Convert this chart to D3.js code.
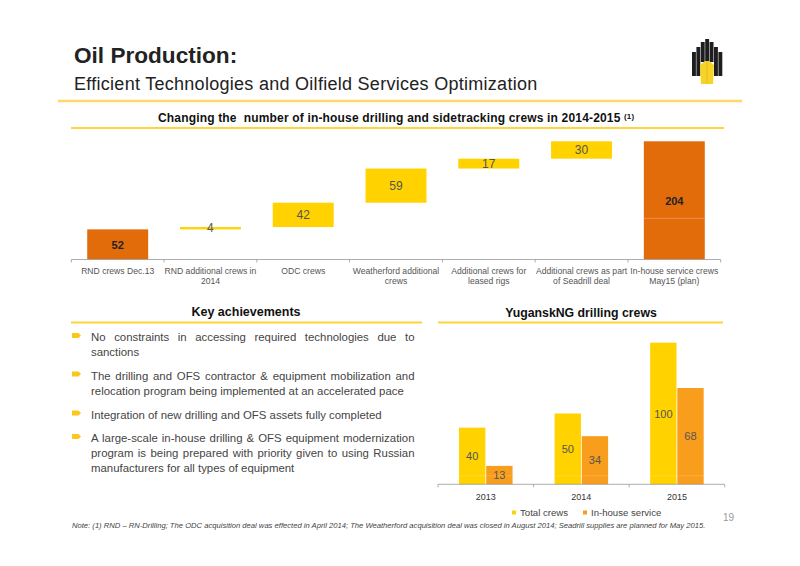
<!DOCTYPE html>
<html>
<head>
<meta charset="utf-8">
<script src="https://cdn.jsdelivr.net/npm/d3@7"></script>
<style>
  html, body { margin: 0; padding: 0; background: #fff; }
  text { font-family: "Liberation Sans", Arial, sans-serif; }
</style>
</head>
<body>
<svg id="slide" width="800" height="566"></svg>
<script>
// waterfall chart
const crewLabels = [
  ["RND crews Dec.13"],
  ["RND additional crews in", "2014"],
  ["ODC crews"],
  ["Weatherford additional", "crews"],
  ["Additional crews for", "leased rigs"],
  ["Additional crews as part", "of Seadrill deal"],
  ["In-house service crews", "May15 (plan)"]
];
const crewValues = [52, 4, 42, 59, 17, 30, 204];
const crewIsTotal = [true, false, false, false, false, false, true];
const crewSplit = 71; // thin pale line inside the last bar

// yugansk chart
const years = ["2013", "2014", "2015"];
const totalCrews = [40, 50, 100];
const inhouseCrews = [13, 34, 68];
const yugSplit = 6; // thin pale line near the foot of the bars
const legendNames = ["Total crews", "In-house service"];

const bullets = [
  ["No constraints in accessing required technologies due to", "sanctions"],
  ["The drilling and OFS contractor & equipment mobilization and", "relocation program being implemented at an accelerated pace"],
  ["Integration of new drilling and OFS assets fully completed"],
  ["A large-scale in-house drilling & OFS equipment modernization", "program is being prepared with priority given to using Russian", "manufacturers for all types of equipment"]
];
const bulletTops = [341, 379.5, 418.5, 442];

const YELLOW = "#ffd200", ORANGE = "#e36c0a", LIGHT_ORANGE = "#f99d1c", LINE = "#ffd33c", GREY = "#555";

const svg = d3.select("#slide");

// ---- header ----
function addText(x, y, str, size, opts = {}) {
  return svg.append("text").attr("x", x).attr("y", y).text(str)
    .attr("font-size", size)
    .attr("font-weight", opts.bold ? "bold" : "normal")
    .attr("font-style", opts.italic ? "italic" : "normal")
    .attr("text-anchor", opts.anchor || "start")
    .attr("letter-spacing", opts.spacing || 0)
    .attr("fill", opts.fill || "#222");
}
function rule(x1, x2, y, color, w) {
  svg.append("line").attr("x1", x1).attr("x2", x2).attr("y1", y).attr("y2", y)
    .attr("stroke", color || LINE).attr("stroke-width", w || 2);
}

addText(74, 63, "Oil Production:", 22.6, { bold: true });
addText(74, 90, "Efficient Technologies and Oilfield Services Optimization", 18, { spacing: 0.28 });
rule(58, 742, 101, "#fbd96b", 2.5);

const sub = addText(158, 122, "Changing the  number of in-house drilling and sidetracking crews in 2014-2015 ", 12, { bold: true, fill: "#111", spacing: 0.17 })
  .style("white-space", "pre");
sub.append("tspan").attr("font-size", 8).attr("dy", -3).text("(1)");
rule(71, 724, 128);

// logo
const logo = svg.append("g").attr("transform", "translate(692,39)");
[[0, 13, 24], [4.4, 8, 29], [8.8, 3, 20], [13.2, 0, 22], [17.6, 3, 20], [22, 8, 29], [26.4, 13, 24]].forEach(([x, y, h]) => {
  logo.append("rect").attr("x", x).attr("y", y).attr("width", 3.9).attr("height", h).attr("fill", "#1e1e1e");
});
logo.append("path").attr("d", "M8 26 L13 22 L17 22 L22 26 L21 45 L9 45 Z").attr("fill", "#f5d327");
logo.append("line").attr("x1", 15).attr("x2", 15).attr("y1", 22).attr("y2", 45).attr("stroke", "#e8b820").attr("stroke-width", 0.8);

// ---- waterfall ----
const wfBase = 259.5;
const yWf = d3.scaleLinear().domain([0, 204]).range([wfBase, 141.3]);
const xWf = d3.scaleBand().domain(crewValues.map((d, i) => i)).range([71.3, 720.7]).paddingInner(0.343).paddingOuter(0.1715);

let running = 0;
const wfRows = crewValues.map((v, i) => {
  const from = crewIsTotal[i] ? 0 : running;
  running = from + v;
  return { i, v, from, to: from + v, total: crewIsTotal[i] };
});

const wf = svg.append("g");
wf.selectAll("rect.wf").data(wfRows).enter().append("rect")
  .attr("class", "wf")
  .attr("x", d => xWf(d.i))
  .attr("width", xWf.bandwidth())
  .attr("y", d => yWf(d.to))
  .attr("height", d => yWf(d.from) - yWf(d.to))
  .attr("fill", d => d.total ? ORANGE : YELLOW);
wf.append("line")
  .attr("x1", xWf(6)).attr("x2", xWf(6) + xWf.bandwidth())
  .attr("y1", yWf(crewSplit)).attr("y2", yWf(crewSplit))
  .attr("stroke", "#f0a060").attr("stroke-width", 0.7);
wf.selectAll("text.val").data(wfRows).enter().append("text")
  .attr("class", "val")
  .attr("x", d => xWf(d.i) + xWf.bandwidth() / 2)
  .attr("y", d => (yWf(d.from) + yWf(d.to)) / 2 + 4.2)
  .attr("text-anchor", "middle")
  .attr("font-size", d => d.total ? 11 : 12)
  .attr("font-weight", d => d.total ? "bold" : "normal")
  .attr("fill", d => d.total ? "#222" : "#555")
  .text(d => d.v);

// axis line with ticks at the band edges
function bandAxis(x0, x1, n, y) {
  const step = (x1 - x0) / n;
  svg.append("line").attr("x1", x0).attr("x2", x1).attr("y1", y).attr("y2", y).attr("stroke", "#999").attr("stroke-width", 0.8);
  d3.range(n + 1).forEach(k => {
    svg.append("line").attr("x1", x0 + k * step).attr("x2", x0 + k * step).attr("y1", y).attr("y2", y + 3).attr("stroke", "#999").attr("stroke-width", 0.8);
  });
}
bandAxis(71.3, 720.7, 7, wfBase);

crewLabels.forEach((lines, i) => {
  lines.forEach((s, k) => {
    addText(xWf(i) + xWf.bandwidth() / 2, 273.5 + k * 10, s, 8.6, { anchor: "middle", fill: GREY });
  });
});

// ---- key achievements ----
addText(246, 316, "Key achievements", 12.5, { bold: true, anchor: "middle", fill: "#111" });
rule(71, 422, 322.5);

const TEXT_LEFT = 91, TEXT_RIGHT = 414.5;
bullets.forEach((lines, b) => {
  const top = bulletTops[b];
  // bullet marker: small arrow-ish tag
  svg.append("path")
    .attr("d", `M72 ${top - 8} h6.5 l2.5 2.5 l-2.5 2.5 h-6.5 z`)
    .attr("fill", "#fbc71a");
  lines.forEach((s, k) => {
    const t = addText(TEXT_LEFT, top + k * 15.2, s, 11.4, { fill: "#444" });
    // justify every line but the last
    if (k < lines.length - 1) {
      const gaps = s.split(" ").length - 1;
      const extra = (TEXT_RIGHT - TEXT_LEFT - t.node().getComputedTextLength()) / gaps;
      t.attr("word-spacing", extra);
    }
  });
});

// ---- yugansk ----
addText(581, 317, "YuganskNG drilling crews", 12.3, { bold: true, anchor: "middle", fill: "#111" });
rule(438, 723, 322.5);

const yugBase = 484.3;
const yYug = d3.scaleLinear().domain([0, 100]).range([yugBase, 342.7]);
const xYug = d3.scaleBand().domain(years).range([438, 724.7]).paddingInner(0.44).paddingOuter(0.22);
const xSer = d3.scaleBand().domain(["total", "inhouse"]).range([0, xYug.bandwidth()]).paddingInner(0.03);

const yugRows = years.flatMap((yr, i) => [
  { yr, key: "total", v: totalCrews[i], fill: YELLOW },
  { yr, key: "inhouse", v: inhouseCrews[i], fill: LIGHT_ORANGE }
]);
const yug = svg.append("g");
yug.selectAll("rect").data(yugRows).enter().append("rect")
  .attr("x", d => xYug(d.yr) + xSer(d.key))
  .attr("width", xSer.bandwidth())
  .attr("y", d => yYug(d.v))
  .attr("height", d => yugBase - yYug(d.v))
  .attr("fill", d => d.fill);
yug.selectAll("line").data(yugRows).enter().append("line")
  .attr("x1", d => xYug(d.yr) + xSer(d.key))
  .attr("x2", d => xYug(d.yr) + xSer(d.key) + xSer.bandwidth())
  .attr("y1", yYug(yugSplit)).attr("y2", yYug(yugSplit))
  .attr("stroke", "#fff").attr("stroke-opacity", 0.25).attr("stroke-width", 0.7);
yug.selectAll("text").data(yugRows).enter().append("text")
  .attr("x", d => xYug(d.yr) + xSer(d.key) + xSer.bandwidth() / 2)
  .attr("y", d => (yugBase + yYug(d.v)) / 2 + 4)
  .attr("text-anchor", "middle")
  .attr("font-size", 11)
  .attr("fill", "#555")
  .text(d => d.v);

bandAxis(438, 724.7, 3, yugBase);
years.forEach(yr => {
  addText(xYug(yr) + xYug.bandwidth() / 2, 500, yr, 9, { anchor: "middle", fill: "#333" });
});

// legend
[[514, YELLOW], [585, LIGHT_ORANGE]].forEach(([x, c], i) => {
  svg.append("rect").attr("x", x - 2).attr("y", 510.5).attr("width", 4).attr("height", 4).attr("fill", c);
  addText(x + 6, 516, legendNames[i], 9.6, { fill: "#444" });
});

// ---- footer ----
addText(72, 528, "Note: (1) RND \u2013 RN-Drilling; The ODC acquisition deal was effected in April 2014; The Weatherford acquisition deal was closed in August 2014; Seadrill supplies are planned for May 2015.", 7.64, { italic: true, fill: "#444" });
addText(723, 521, "19", 10, { fill: "#999" });
</script>
</body>
</html>
